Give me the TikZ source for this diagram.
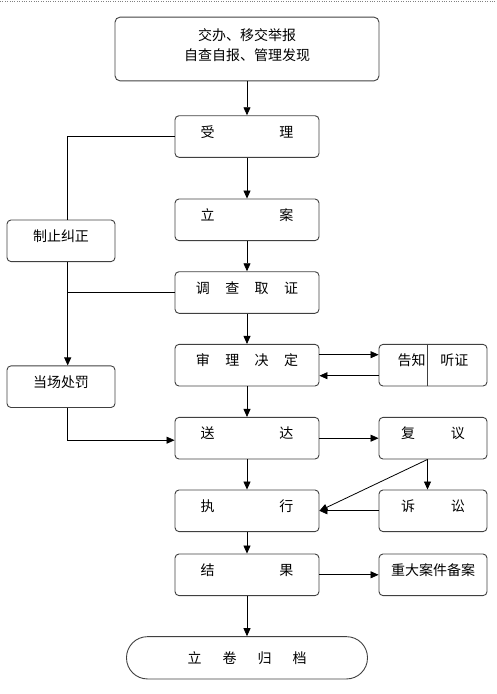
\documentclass[tikz,border=0pt]{standalone}
\usepackage{fontspec}
\setmainfont{Noto Sans CJK SC}
\usetikzlibrary{arrows.meta}
\tikzset{node distance=2.5cm, auto, >={Triangle[length=8pt,width=7pt]},
  every node/.style={font=\fontsize{14pt}{20pt}\selectfont},
  box/.style={draw=black!75, line width=0.9pt, rounded corners=4pt,
    minimum width=144pt, inner sep=0pt, text height=21.3pt, text depth=20.3pt},
  sbox/.style={box, minimum width=108pt},
  topbox/.style={draw=black!75, line width=0.9pt, rounded corners=5pt,
    minimum width=264pt, minimum height=63.7pt, align=center},
  endbox/.style={draw=black!75, line width=0.9pt, rounded corners=21pt,
    minimum width=241pt, minimum height=42.3pt, inner sep=0pt},
  line/.style={line width=0.8pt}}

\begin{document}
\begin{tikzpicture}[x=1pt, y=1pt]
                \useasboundingbox (0,0) rectangle (496,-694);
                \draw[gray, dotted] (0,-1) -- (496,-1);
                \node (A) [topbox] at (247,-49) {交办、移交举报\\自查自报、管理发现\rule[-9.7pt]{0pt}{9.7pt}};
                \node (B) [box, node distance=87.5pt, below of=A] {受\hspace{4.64em}理};
                \node (C) [box, node distance=83.3pt, below of=B] {立\hspace{4.64em}案};
                \node (D) [box, node distance=72.7pt, below of=C] {调\hspace{1.1em}查\hspace{1.1em}取\hspace{1.1em}证};
                \node (E) [box, node distance=72.7pt, below of=D] {审\hspace{1.1em}理\hspace{1.1em}决\hspace{1.1em}定};
                \node (F) [box, node distance=73pt, below of=E] {送\hspace{4.64em}达};
                \node (G) [box, node distance=72.6pt, below of=F] {执\hspace{4.64em}行};
                \node (H) [box, node distance=64pt, below of=G] {结\hspace{4.64em}果};
                \node (I) [endbox, node distance=83pt, below of=H] {立\hspace{1.5em}卷\hspace{1.5em}归\hspace{1.5em}档};
                \node (Z) [sbox] at (61,-240.8) {制止纠正};
                \node (P) [sbox] at (61,-386.7) {当场处罚};
                \node (T) [sbox, node distance=186pt, right of=E] {告知\hspace{1.07em}听证\hspace{17pt}};
                \node (R) [sbox, node distance=186pt, right of=F] {复\hspace{2.57em}议};
                \node (S) [sbox, node distance=186pt, right of=G] {诉\hspace{2.57em}讼};
                \node (K) [sbox, node distance=186pt, right of=H] {重大案件备案};
                \draw[line width=0.9pt, black!75] ([xshift=-6pt]T.north) -- ([xshift=-6pt]T.south);
                \coordinate (zc) at ([xshift=6.7pt]Z.south);
                \coordinate (rc) at ([xshift=-5.5pt]R.south);
                \draw[line,->] (A) to node {} (B);
                \draw[line,->] (B) to node {} (C);
                \draw[line,->] (C) to node {} (D);
                \draw[line,->] (D) to node {} (E);
                \draw[line,->] (E) to node {} (F);
                \draw[line,->] (F) to node {} (G);
                \draw[line,->] (G) to node {} (H);
                \draw[line,->] (H) to node {} (I);
                \draw[line] (B.west) -| ([xshift=6.7pt]Z.north);
                \draw[line,->] (zc) -- ([xshift=6.7pt]P.north);
                \draw[line] (D.west) -- (D.west -| zc);
                \draw[line,->] ([xshift=6.7pt]P.south) |- ([yshift=-2pt]F.west);
                \draw[line,->] ([yshift=10.5pt]E.east) -- ([yshift=10.5pt]T.west);
                \draw[line,->] ([yshift=-10.5pt]T.west) -- ([yshift=-10.5pt]E.east);
                \draw[line,->] (F.east) -- (R.west);
                \draw[line,->] (rc) -- (rc |- S.north);
                \draw[line,->] (rc) -- (G.east);
                \draw[line,->] (S.west) -- (G.east);
                \draw[line,->] (H.east) -- (K.west);
              \end{tikzpicture}
\end{document}
